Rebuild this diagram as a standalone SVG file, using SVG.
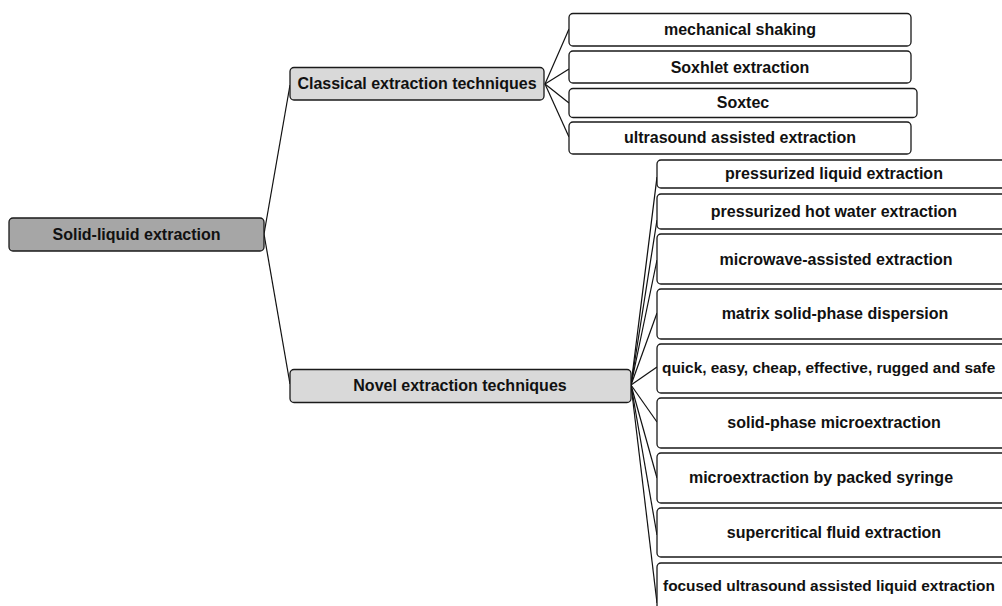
<svg xmlns="http://www.w3.org/2000/svg" width="1002" height="606" viewBox="0 0 1002 606">
<style>
.box{stroke:#1a1a1a;stroke-width:1.3;fill:#ffffff}
.root{fill:#a6a6a6}
.mid{fill:#d9d9d9}
.t{font-family:"Liberation Sans",Arial,sans-serif;font-weight:bold;font-size:16px;fill:#111;dominant-baseline:central;text-anchor:middle}
.ts{text-anchor:start;font-size:15.4px}
.c{stroke:#111;stroke-width:1.2;fill:none}
</style>
<rect width="1002" height="606" fill="#ffffff"/>
<g id="connectors">
<line class="c" x1="264" y1="234" x2="290" y2="85"/>
<line class="c" x1="264" y1="234" x2="290" y2="384"/>
<line class="c" x1="545" y1="84" x2="569" y2="29"/>
<line class="c" x1="545" y1="84" x2="569" y2="69"/>
<line class="c" x1="545" y1="84" x2="569" y2="103"/>
<line class="c" x1="545" y1="84" x2="569" y2="137"/>
<line class="c" x1="631" y1="385" x2="657" y2="177"/>
<line class="c" x1="631" y1="385" x2="657" y2="220"/>
<line class="c" x1="631" y1="385" x2="657" y2="260"/>
<line class="c" x1="631" y1="385" x2="657" y2="313"/>
<line class="c" x1="631" y1="385" x2="657" y2="367"/>
<line class="c" x1="631" y1="385" x2="657" y2="422"/>
<line class="c" x1="631" y1="385" x2="657" y2="478"/>
<line class="c" x1="631" y1="385" x2="657" y2="535"/>
<line class="c" x1="631" y1="385" x2="657" y2="603"/>
</g>
<g id="n-root"><rect class="box root" x="9" y="218" width="255" height="33" rx="4"/><text class="t" x="136.5" y="234.5">Solid-liquid extraction</text></g>
<g id="n-classical"><rect class="box mid" x="290" y="67.5" width="254" height="32.5" rx="4"/><text class="t" x="417" y="83.5">Classical extraction techniques</text></g>
<g id="n-novel"><rect class="box mid" x="290" y="369.5" width="341" height="33" rx="4"/><text class="t" x="460" y="385">Novel extraction techniques</text></g>
<g id="n-mech"><rect class="box" x="569" y="13.5" width="342" height="32.5" rx="4"/><text class="t" x="740" y="29.5">mechanical shaking</text></g>
<g id="n-soxhlet"><rect class="box" x="569" y="51" width="342" height="32" rx="4"/><text class="t" x="740" y="67">Soxhlet extraction</text></g>
<g id="n-soxtec"><rect class="box" x="569" y="88.5" width="348" height="29" rx="4"/><text class="t" x="743" y="102.5">Soxtec</text></g>
<g id="n-usae"><rect class="box" x="569" y="122" width="342" height="32" rx="4"/><text class="t" x="740" y="137.5">ultrasound assisted extraction</text></g>
<g id="n-ple"><rect class="box" x="657" y="160" width="355" height="28" rx="4"/><text class="t" x="834" y="173.5">pressurized liquid extraction</text></g>
<g id="n-phwe"><rect class="box" x="657" y="194" width="355" height="35" rx="4"/><text class="t" x="834" y="211.5">pressurized hot water extraction</text></g>
<g id="n-mae"><rect class="box" x="657" y="234" width="355" height="50" rx="4"/><text class="t" x="836" y="259">microwave-assisted extraction</text></g>
<g id="n-mspd"><rect class="box" x="657" y="289" width="355" height="50" rx="4"/><text class="t" x="835" y="313.5">matrix solid-phase dispersion</text></g>
<g id="n-quechers"><rect class="box" x="657" y="344" width="355" height="49" rx="4"/><text class="t ts" x="662" y="367.5">quick, easy, cheap, effective, rugged and safe</text></g>
<g id="n-spme"><rect class="box" x="657" y="398" width="355" height="50" rx="4"/><text class="t" x="834" y="422.5">solid-phase microextraction</text></g>
<g id="n-meps"><rect class="box" x="657" y="453" width="355" height="50" rx="4"/><text class="t" x="821" y="477.5">microextraction by packed syringe</text></g>
<g id="n-sfe"><rect class="box" x="657" y="508" width="355" height="49" rx="4"/><text class="t" x="834" y="532">supercritical fluid extraction</text></g>
<g id="n-fusle"><rect class="box" x="657" y="563" width="355" height="50" rx="4"/><text class="t ts" x="663" y="585">focused ultrasound assisted liquid extraction</text></g>
</svg>
